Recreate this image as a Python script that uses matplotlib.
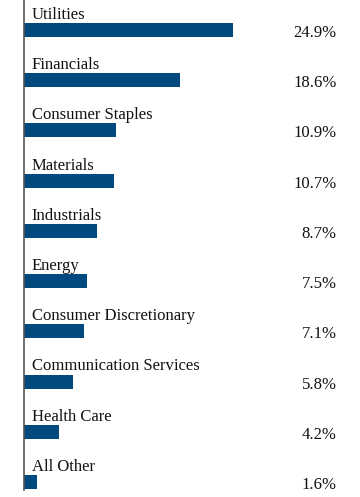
import matplotlib.pyplot as plt

# sector weights
sectors = ['Utilities', 'Financials', 'Consumer Staples', 'Materials', 'Industrials',
           'Energy', 'Consumer Discretionary', 'Communication Services',
           'Health Care', 'All Other']
weights = [24.9, 18.6, 10.9, 10.7, 8.7, 7.5, 7.1, 5.8, 4.2, 1.6]

plt.rcParams['font.family'] = ['Liberation Serif', 'DejaVu Serif']

W, H = 360, 497
fig = plt.figure(figsize=(W / 100, H / 100), dpi=100)
ax = fig.add_axes([24 / W, 7 / H, 336 / W, 490 / H])

bar_color = '#004a7f'
ypos = list(range(len(sectors)))
ax.barh(ypos, weights, height=0.28, color=bar_color)

for y, name, w in zip(ypos, sectors, weights):
    ax.text(0.9, y - 0.22, name, fontsize=12, va='baseline', ha='left', color='#111111')
    ax.text(37.2, y + 0.14, f'{w:.1f}%', fontsize=12, va='baseline', ha='right', color='#111111')

ax.set_xlim(0, 40)
ax.set_ylim(9.16, -0.598)
for s in ['top', 'right', 'bottom']:
    ax.spines[s].set_visible(False)
ax.spines['left'].set_color('#555555')
ax.spines['left'].set_linewidth(1.2)
ax.set_xticks([])
ax.set_yticks([])

fig.savefig('out.png', dpi=100)
